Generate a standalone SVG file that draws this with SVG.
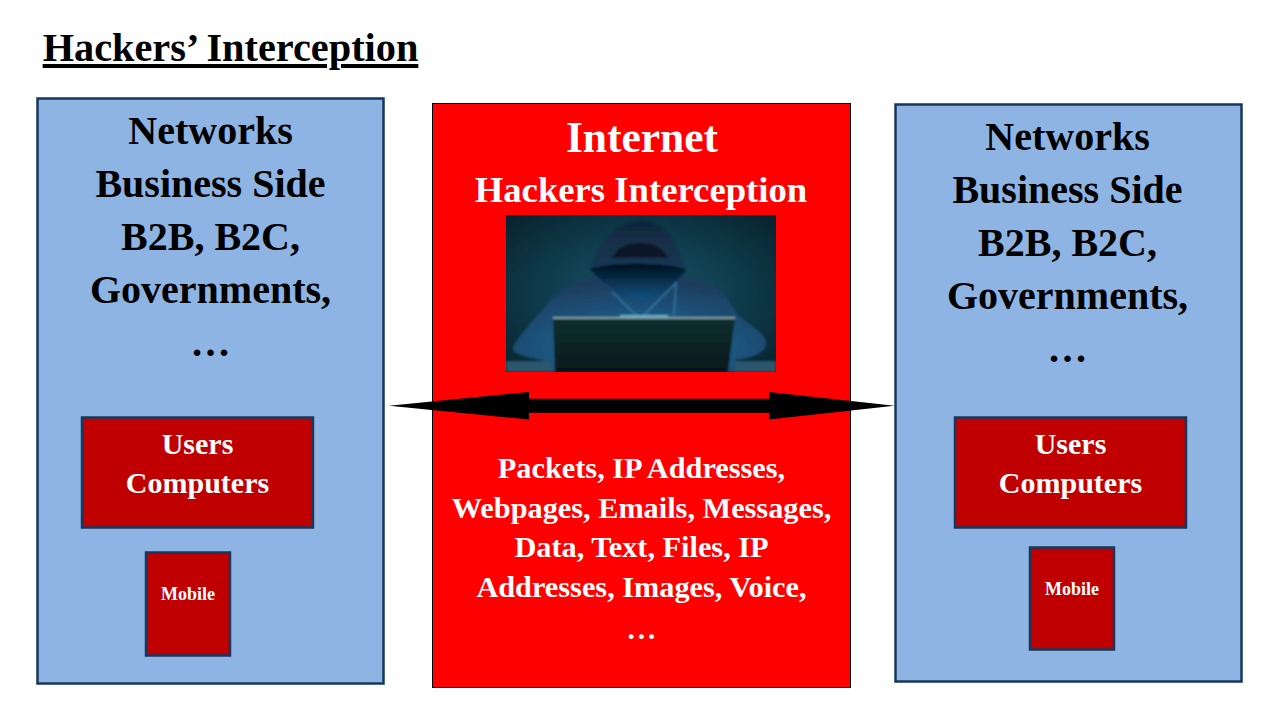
<svg xmlns="http://www.w3.org/2000/svg" width="1276" height="720" viewBox="0 0 1276 720">
<style>
text{font-family:"Liberation Serif","Times New Roman",serif;font-weight:700;text-anchor:middle}
.blue{fill:#8eb4e3;stroke:#17375e;stroke-width:2.500}
.dark{fill:#c00000;stroke:#17375e;stroke-width:2.500}
.h{font-size:40px;fill:#000}
.u{font-size:30px;fill:#fff}
.p{font-size:30.300px;fill:#fff}
.m{font-size:18px;fill:#fff}
</style>
<defs>
<radialGradient id="bg" cx="0.5" cy="0.5" r="0.7"><stop offset="0" stop-color="#17566a"/><stop offset="0.55" stop-color="#0e3a4a"/><stop offset="1" stop-color="#08222d"/></radialGradient>
<radialGradient id="glow" cx="0.5" cy="0.75" r="0.7"><stop offset="0" stop-color="#1d7fb5"/><stop offset="0.5" stop-color="#1e5680"/><stop offset="1" stop-color="#1a3d5c"/></radialGradient>
<linearGradient id="face" x1="0" y1="0" x2="0" y2="1"><stop offset="0" stop-color="#03101c"/><stop offset="1" stop-color="#0c5585"/></linearGradient>
<linearGradient id="hood" x1="0" y1="0" x2="0" y2="1"><stop offset="0" stop-color="#10263c"/><stop offset="1" stop-color="#1c4567"/></linearGradient>
<linearGradient id="lap" x1="0" y1="0" x2="0" y2="1"><stop offset="0" stop-color="#0e3030"/><stop offset="1" stop-color="#06181b"/></linearGradient>
<filter id="b" x="-10%" y="-10%" width="120%" height="120%"><feGaussianBlur stdDeviation="0.800"/></filter>
<clipPath id="pic"><rect x="506" y="215" width="270" height="157"/></clipPath>
</defs>
<rect width="1276" height="720" fill="#fff"/>
<text id="title" x="230.500" y="61" style="font-size:40.300px;text-decoration:underline">Hackers’ Interception</text>

<g id="left-network">
<rect class="blue" x="37.500" y="98.500" width="346" height="585"/>
<text class="h" x="210.500" y="144">Networks</text>
<text class="h" x="210.500" y="197">Business Side</text>
<text class="h" x="210.500" y="250">B2B, B2C,</text>
<text class="h" x="210.500" y="303">Governments,</text>
<text class="h" x="210.500" y="356">…</text>
</g>
<g id="left-users">
<rect class="dark" x="82" y="417.500" width="231" height="110"/>
<text class="u" x="197.500" y="454">Users</text>
<text class="u" x="197.500" y="493">Computers</text>
</g>
<g id="left-mobile">
<rect class="dark" x="146" y="552.500" width="84" height="103"/>
<text class="m" x="188" y="600">Mobile</text>
</g>

<g id="internet">
<rect x="432.500" y="103.500" width="418" height="584" fill="#ff0000" stroke="#000" stroke-width="1"/>
<text x="642" y="152" style="font-size:43.500px;fill:#fff">Internet</text>
<text x="641" y="202" style="font-size:36.700px;fill:#fff">Hackers Interception</text>
<text class="p" x="641.500" y="478">Packets, IP Addresses,</text>
<text class="p" x="641.500" y="518">Webpages, Emails, Messages,</text>
<text class="p" x="641.500" y="557">Data, Text, Files, IP</text>
<text class="p" x="641.500" y="597">Addresses, Images, Voice,</text>
<text class="p" x="641.500" y="639">…</text>
</g>
<g id="hacker-picture" clip-path="url(#pic)">
<rect x="506" y="215" width="270" height="157" fill="url(#bg)"/>
<g filter="url(#b)">
<rect x="506" y="361" width="270" height="11" fill="#2c566e"/>
<path d="M513 347C520 332 540 315 552 298C562 285 580 280 600 276L684 276C705 280 725 288 732 306C740 322 762 328 766 341C768 352 754 358 735 360L735 372H553L550 362C535 358 510 356 513 347Z" fill="url(#glow)"/>
<path d="M590 268C598 246 615 222 642 220C665 222 680 248 686 270C678 282 660 300 640 302C620 300 600 282 590 268Z" fill="url(#hood)"/>
<path d="M590 269C610 262 670 262 686 270C676 283 658 298 640 301C622 298 604 284 590 269Z" fill="url(#face)"/>
<path d="M612 258C620 238 660 238 668 258Z" fill="#06121c" opacity=".75"/>
<path d="M643 316L676 283L674 316M637 316L612 292" fill="none" stroke="#3796c8" stroke-width="1.500" opacity=".6"/>
<path d="M553 318L735 317L728 372H555Z" fill="url(#lap)"/>
<path d="M553 318H735" stroke="#7f9ba0" stroke-width="2"/>
<path d="M620 316H668" stroke="#7fd0e8" stroke-width="2" opacity=".7"/>
</g>
</g>

<g id="connectors">
<path d="M389 405.700L529 392V398.700H769V392L894.500 405.700L769 419.500V412.800H529V419.500Z" fill="#000"/>
</g>

<g id="right-network">
<rect class="blue" x="895.500" y="104.500" width="346" height="577"/>
<text class="h" x="1067.500" y="150">Networks</text>
<text class="h" x="1067.500" y="203">Business Side</text>
<text class="h" x="1067.500" y="256">B2B, B2C,</text>
<text class="h" x="1067.500" y="309">Governments,</text>
<text class="h" x="1067.500" y="362">…</text>
</g>
<g id="right-users">
<rect class="dark" x="955" y="417.500" width="231" height="110"/>
<text class="u" x="1070.500" y="454">Users</text>
<text class="u" x="1070.500" y="493">Computers</text>
</g>
<g id="right-mobile">
<rect class="dark" x="1030" y="547.500" width="84" height="102"/>
<text class="m" x="1072" y="595">Mobile</text>
</g>
</svg>
